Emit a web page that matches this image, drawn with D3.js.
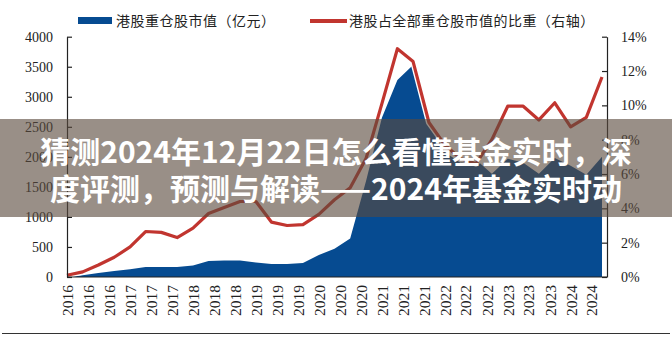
<!DOCTYPE html>
<html>
<head>
<meta charset="utf-8">
<script src="https://cdn.jsdelivr.net/npm/d3@7/dist/d3.min.js"></script>
<style>
  html, body { margin: 0; padding: 0; background: #fff; }
  svg { display: block; }
  .tick text { font-family: "Liberation Serif", "Times New Roman", serif; font-size: 14px; fill: #222; }
  .x-axis .tick text { font-size: 15.5px; }
</style>
</head>
<body>
<svg id="chart" width="672" height="338"></svg>
<script>
// Quarterly observations, Jan 2016 – Jul 2024
const quarters = [
  "2016-01","2016-04","2016-07","2016-10",
  "2017-01","2017-04","2017-07","2017-10",
  "2018-01","2018-04","2018-07","2018-10",
  "2019-01","2019-04","2019-07","2019-10",
  "2020-01","2020-04","2020-07","2020-10",
  "2021-01","2021-04","2021-07","2021-10",
  "2022-01","2022-04","2022-07","2022-10",
  "2023-01","2023-04","2023-07","2023-10",
  "2024-01","2024-04","2024-07"
];
// 港股重仓股市值（亿元）
const hkMarketValue = [
  0, 30, 65, 100,
  130, 165, 165, 165,
  190, 265, 275, 275,
  240, 215, 215, 235,
  365, 470, 640, 1600,
  2650, 3280, 3530, 2550,
  2080, 1900, 1950, 1720,
  1970, 1900, 1720, 1980,
  1850, 1700, 2000
];
// 港股占全部重仓股市值的比重（%）
const hkShare = [
  0.1, 0.3, 0.7, 1.15,
  1.75, 2.65, 2.6, 2.3,
  2.85, 3.7, 4.05, 4.4,
  4.4, 3.2, 3.0, 3.05,
  3.65, 4.5, 5.2, 6.9,
  10.1, 13.3, 12.55, 9.0,
  7.7, 6.9, 6.6, 8.0,
  9.95, 9.95, 9.15, 10.15,
  8.75, 9.3, 11.65
];
// Category labels every four months
const xTickMonths = [
  "2016-01","2016-05","2016-09","2017-01","2017-05","2017-09",
  "2018-01","2018-05","2018-09","2019-01","2019-05","2019-09",
  "2020-01","2020-05","2020-09","2021-01","2021-05","2021-09",
  "2022-01","2022-05","2022-09","2023-01","2023-05","2023-09",
  "2024-01","2024-05"
];
const leftTicks = [0, 500, 1000, 1500, 2000, 2500, 3000, 3500, 4000];
const rightTicks = [0, 2, 4, 6, 8, 10, 12, 14];
const legendLabels = ["港股重仓股市值（亿元）", "港股占全部重仓股市值的比重（右轴）"];
const bannerLines = [
  "猜测2024年12月22日怎么看懂基金实时，深",
  "度评测，预测与解读——2024年基金实时动"
];

const parseMonth = d3.timeParse("%Y-%m");
const dates = quarters.map(parseMonth);
const rows = dates.map((d, i) => ({ date: d, mv: hkMarketValue[i], share: hkShare[i] }));

const svg = d3.select("#chart");
const plotLeft = 67, plotRight = 602, axisRightX = 607, plotTop = 36.7, plotBottom = 277;

const x = d3.scaleTime().domain([dates[0], dates[dates.length - 1]]).range([plotLeft, plotRight]);
const yL = d3.scaleLinear().domain([0, 4000]).range([plotBottom, plotTop]);
const yR = d3.scaleLinear().domain([0, 14]).range([plotBottom, plotTop]);

const blue = "#064b91";
const red = "#c1352f";

// Market value area
svg.append("path")
  .datum(rows)
  .attr("fill", blue)
  .attr("d", d3.area().x(d => x(d.date)).y0(yL(0)).y1(d => yL(d.mv)));

// Share line with a thin white halo
const shareLine = d3.line().x(d => x(d.date)).y(d => yR(d.share));
svg.append("path").datum(rows)
  .attr("fill", "none").attr("stroke", "#fff").attr("stroke-width", 6)
  .attr("stroke-linejoin", "round").attr("d", shareLine);
svg.append("path").datum(rows)
  .attr("fill", "none").attr("stroke", red).attr("stroke-width", 3.2)
  .attr("stroke-linejoin", "round").attr("d", shareLine);

// Left axis
const gL = svg.append("g").attr("transform", `translate(${plotLeft},0)`)
  .call(d3.axisLeft(yL).tickValues(leftTicks).tickSizeInner(-5).tickSizeOuter(0).tickPadding(14)
    .tickFormat(d3.format("d")));
// Right axis
const gR = svg.append("g").attr("transform", `translate(${axisRightX},0)`)
  .call(d3.axisRight(yR).tickValues(rightTicks).tickSizeInner(-5).tickSizeOuter(0).tickPadding(14)
    .tickFormat(d => d + "%"));
[gL, gR].forEach(g => {
  g.selectAll(".domain, .tick line").attr("stroke", "#222").attr("stroke-width", 1.2);
});

// Bottom axis with vertical year labels
const gB = svg.append("g").attr("class", "x-axis").attr("transform", `translate(0,${plotBottom})`)
  .call(d3.axisBottom(x).tickValues(xTickMonths.map(parseMonth)).tickSize(0)
    .tickFormat(d3.timeFormat("%Y")));
gB.select(".domain").remove();
gB.selectAll(".tick text")
  .attr("transform", "rotate(-90)")
  .attr("text-anchor", "end")
  .attr("x", -8)
  .attr("y", 0)
  .attr("dy", "0.35em");
svg.append("line")
  .attr("x1", plotLeft).attr("x2", axisRightX).attr("y1", plotBottom).attr("y2", plotBottom)
  .attr("stroke", "#222").attr("stroke-width", 1.2);

// Legend
const legend = svg.append("g").style("font-family", "'Noto Sans CJK SC', sans-serif")
  .style("font-size", "14px").style("fill", "#222");
legend.append("rect").attr("x", 78).attr("y", 17).attr("width", 34).attr("height", 7).attr("fill", blue);
legend.append("text").attr("x", 116).attr("y", 25.5).attr("letter-spacing", "0.5px").text(legendLabels[0]);
legend.append("line").attr("x1", 310).attr("x2", 347).attr("y1", 21).attr("y2", 21)
  .attr("stroke", red).attr("stroke-width", 4);
legend.append("text").attr("x", 349).attr("y", 25.5).attr("letter-spacing", "0.45px").text(legendLabels[1]);

// Rule at the bottom of the figure
svg.append("line").attr("x1", 2).attr("x2", 670).attr("y1", 333.5).attr("y2", 333.5)
  .attr("stroke", "#333").attr("stroke-width", 1.2);

// Headline banner
svg.append("rect").attr("x", 0).attr("y", 119).attr("width", 672).attr("height", 98)
  .attr("fill", "rgb(90,74,62)").attr("fill-opacity", 0.62);
svg.append("g")
  .style("font-family", "'Noto Sans CJK SC', sans-serif")
  .style("font-weight", 700).style("font-size", "30px").style("fill", "#fff")
  .selectAll("text").data(bannerLines).join("text")
  .attr("x", 336).attr("text-anchor", "middle")
  .attr("y", (d, i) => 163 + i * 37)
  .text(d => d);
</script>
</body>
</html>
